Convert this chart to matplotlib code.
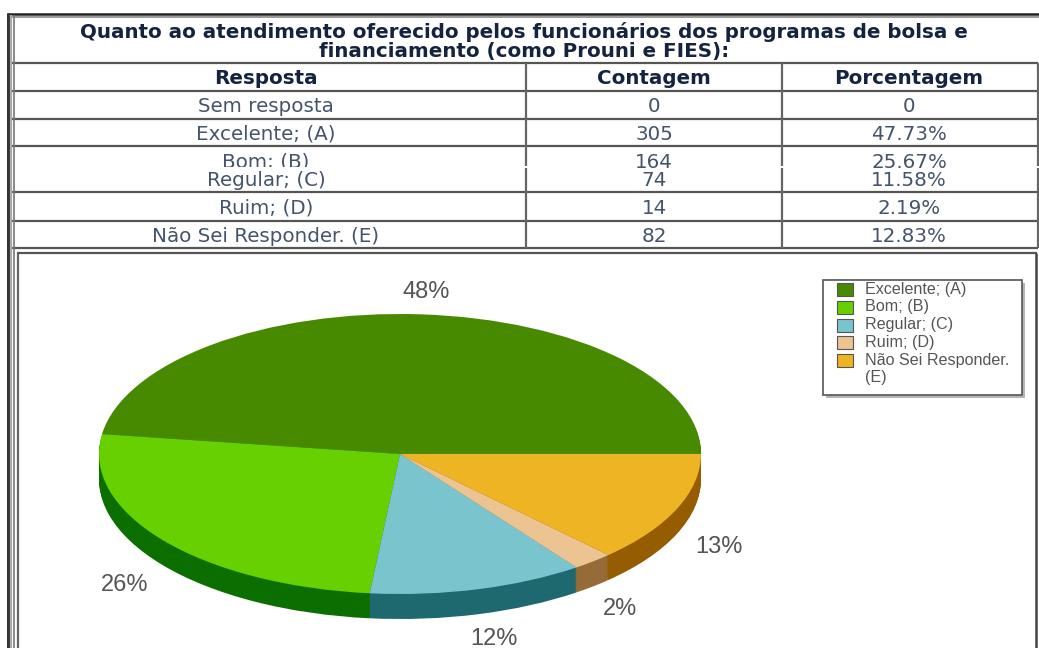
import matplotlib
matplotlib.use("Agg")
import matplotlib.pyplot as plt
from matplotlib.patches import Rectangle

title_lines = ["Quanto ao atendimento oferecido pelos funcionários dos programas de bolsa e",
               "financiamento (como Prouni e FIES):"]
headers = ["Resposta", "Contagem", "Porcentagem"]
respostas = ["Sem resposta", "Excelente; (A)", "Bom; (B)", "Regular; (C)", "Ruim; (D)", "Não Sei Responder. (E)"]
contagem = ["0", "305", "164", "74", "14", "82"]
porcentagem = ["0", "47.73%", "25.67%", "11.58%", "2.19%", "12.83%"]

pie_values = [305, 164, 74, 14, 82]
pie_top = ["#478a00", "#66d000", "#7ac4ce", "#ecc492", "#eeb423"]
pie_side = ["#2f5e00", "#0b6f00", "#1e6870", "#976b37", "#955c00"]
pie_labels = ["48%", "26%", "12%", "2%", "13%"]
legend_labels = ["Excelente; (A)", "Bom; (B)", "Regular; (C)", "Ruim; (D)", "Não Sei Responder.\n(E)"]

W, H = 1039, 648
cx, cy, rx, ry, depth = 400, 454, 301, 140, 25

fig = plt.figure(figsize=(W / 100, H / 100), dpi=100, facecolor="white")

# pie axes, squashed so that a unit circle becomes the ellipse
pax = fig.add_axes([0, 0, 1, 1], zorder=1)
for d in range(depth, 0, -1):
    pax.pie(pie_values, colors=pie_side, center=(0, -d / ry), startangle=0, counterclock=True)
pax.pie(pie_values, colors=pie_top, center=(0, 0), startangle=0, counterclock=True)
pax.set_aspect("auto")
pax.set_xlim(-cx / rx, (W - cx) / rx)
pax.set_ylim((cy - H) / ry, cy / ry)
pax.axis("off")

# everything else in pixel coordinates
ax = fig.add_axes([0, 0, 1, 1], zorder=2)
ax.set_xlim(0, W)
ax.set_ylim(H, 0)
ax.axis("off")
ax.patch.set_alpha(0)

line_c = "#555555"
row_lines = [63, 91, 119, 146, 192, 221, 248]
col_lines = [526, 782]
ax.hlines(row_lines, 12, 1038, color=line_c, lw=1.6)
ax.hlines(14, 7, 1039, color="#222222", lw=1.8)
ax.hlines(16.5, 9, 1039, color="#999999", lw=1.4)
for x in col_lines + [1037.5]:
    ax.vlines([x, x], [63, 168], [166, 248], color="#666666", lw=1.6)
# outer double frame on the left
ax.vlines(8, 13, H, color="#333333", lw=2.2)
ax.vlines(11, 15, H, color="#aaaaaa", lw=1.6)
ax.vlines(13.5, 15, H, color="#777777", lw=1.2)
ax.vlines(18, 253, H, color="#666666", lw=1.6)
ax.hlines(253, 17, 1037, color="#555555", lw=1.6)
ax.vlines(1036, 253, H, color="#444444", lw=1.8)

title_c = "#14233f"
text_c = "#44546a"
table_fs = 14.3
ax.text(524, 30, title_lines[0], ha="center", va="center_baseline", fontsize=table_fs, fontweight="bold", color=title_c)
ax.text(524, 50, title_lines[1], ha="center", va="center_baseline", fontsize=table_fs, fontweight="bold", color=title_c)

col_x = [266, 654, 909]
for x, h in zip(col_x, headers):
    ax.text(x, 76.5, h, ha="center", va="center_baseline", fontsize=table_fs, fontweight="bold", color=title_c)

row_y = [104, 132, 160, 178, 206, 234]
clip = Rectangle((0, 0), W, 167, transform=ax.transData)
for i, y in enumerate(row_y):
    for x, txt in zip(col_x, [respostas[i], contagem[i], porcentagem[i]]):
        t = ax.text(x, y, txt, ha="center", va="center_baseline", fontsize=table_fs, color=text_c)
        if i == 2 and x == col_x[0]:
            t.set_clip_path(clip)
            t.set_clip_on(True)

# pie labels
label_x = [426, 125, 494, 620, 719]
label_y = [292, 585, 639, 609, 547]
for x, y, s in zip(label_x, label_y, pie_labels):
    ax.text(x, y, s, ha="center", va="center", fontsize=17, family="Liberation Sans", color="#555555")

# legend box
ax.add_patch(Rectangle((826, 283), 199, 115, fc="#b5b5b5", ec="none"))
ax.add_patch(Rectangle((823, 280), 199, 115, fc="white", ec="#555555", lw=1.2))
swatch_y = [283, 301, 319, 336, 354]
text_y = [289.5, 307, 325, 342.5, 353]
for c, sy, ty, lab in zip(pie_top, swatch_y, text_y, legend_labels):
    ax.add_patch(Rectangle((837, sy), 16, 13, fc=c, ec="#555555", lw=0.8))
    ax.text(865, ty, lab, ha="left", va="top" if "\n" in lab else "center", fontsize=11.6,
            family="Liberation Sans", color="#555555", linespacing=1.15)

fig.savefig("out.png", dpi=100)
